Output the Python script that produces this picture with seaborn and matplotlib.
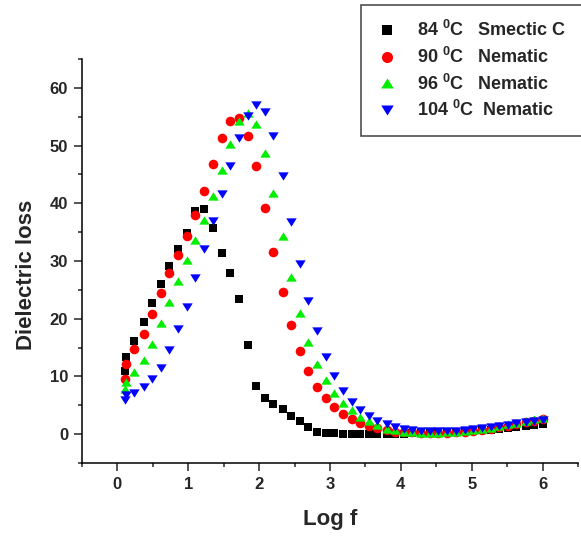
import numpy as np
import pandas as pd
import matplotlib
matplotlib.use("Agg")
import matplotlib.pyplot as plt
import seaborn as sns
from matplotlib.lines import Line2D
from matplotlib.ticker import MultipleLocator

# ---- data ----
logf = [0.10, 0.12, 0.24, 0.37, 0.49, 0.61, 0.73, 0.86, 0.98, 1.10,
        1.22, 1.35, 1.47, 1.59, 1.71, 1.84, 1.96, 2.08, 2.20, 2.33,
        2.45, 2.57, 2.69, 2.82, 2.94, 3.06, 3.18, 3.31, 3.43, 3.55,
        3.67, 3.80, 3.92, 4.04, 4.16, 4.29, 4.41, 4.53, 4.65, 4.78,
        4.90, 5.02, 5.14, 5.27, 5.39, 5.51, 5.63, 5.76, 5.88, 6.00]

loss_84 = [11.0, 13.3, 16.2, 19.4, 22.8, 26.0, 29.2, 32.0, 34.9, 38.6,
           39.0, 35.7, 31.4, 28.0, 23.5, 15.4, 8.4, 6.3, 5.3, 4.3,
           3.2, 2.2, 1.3, 0.3, 0.2, 0.15, 0.1, 0.1, 0.1, 0.1,
           0.1, 0.1, 0.1, 0.1, 0.15, 0.2, 0.25, 0.3, 0.35, 0.4,
           0.5, 0.6, 0.7, 0.8, 0.9, 1.05, 1.2, 1.35, 1.55, 1.8]

loss_90 = [9.5, 12.2, 14.7, 17.4, 20.8, 24.4, 28.0, 31.1, 34.4, 38.0,
           42.1, 46.8, 51.3, 54.2, 54.8, 51.7, 46.4, 39.2, 31.6, 24.7,
           18.9, 14.4, 11.0, 8.2, 6.2, 4.7, 3.5, 2.65, 2.0, 1.45,
           1.0, 0.65, 0.45, 0.35, 0.3, 0.25, 0.2, 0.2, 0.25, 0.3,
           0.4, 0.55, 0.75, 0.95, 1.2, 1.45, 1.75, 2.05, 2.35, 2.55]

loss_96 = [7.8, 9.1, 10.8, 12.9, 15.7, 19.2, 22.9, 26.5, 30.2, 33.6,
           37.1, 41.2, 45.7, 50.3, 54.3, 55.7, 53.8, 48.7, 41.7, 34.4,
           27.3, 21.0, 16.0, 12.1, 9.4, 7.1, 5.4, 4.1, 3.05, 2.2,
           1.5, 0.95, 0.67, 0.45, 0.35, 0.25, 0.25, 0.25, 0.3, 0.35,
           0.5, 0.7, 0.9, 1.1, 1.4, 1.7, 2.0, 2.3, 2.55, 2.75]

loss_104 = [6.0, 6.7, 7.1, 8.1, 9.5, 11.5, 14.5, 18.2, 22.1, 27.0,
            32.1, 36.9, 41.6, 46.4, 51.3, 55.2, 57.1, 55.9, 51.6, 44.7,
            36.8, 29.5, 23.0, 17.8, 13.4, 10.0, 7.4, 5.6, 4.2, 3.2,
            2.35, 1.8, 1.3, 0.97, 0.74, 0.57, 0.5, 0.5, 0.5, 0.6,
            0.7, 0.85, 1.0, 1.2, 1.4, 1.6, 1.85, 2.1, 2.3, 2.45]

series_names = ["84", "90", "96", "104"]
series_labels = ["84 $^0$C   Smectic C", "90 $^0$C   Nematic",
                 "96 $^0$C   Nematic", "104 $^0$C  Nematic"]
series_colors = ["#000000", "#ff0000", "#00ee00", "#0000ff"]

tri_up = [(0, 0.8), (-1, -0.8), (1, -0.8)]
tri_down = [(0, -0.8), (-1, 0.8), (1, 0.8)]
series_markers = ["s", "o", tri_up, tri_down]
series_sizes = [30, 48, 56, 56]

df = pd.DataFrame({
    "logf": logf * 4,
    "loss": loss_84 + loss_90 + loss_96 + loss_104,
    "series": sum([[n] * len(logf) for n in series_names], []),
})

sns.set_style("ticks")
plt.rcParams["font.family"] = ["Liberation Sans", "DejaVu Sans"]
plt.rcParams["font.weight"] = "bold"
plt.rcParams["mathtext.fontset"] = "custom"
plt.rcParams["mathtext.rm"] = "Liberation Sans:bold"
plt.rcParams["mathtext.it"] = "Liberation Sans:bold"
plt.rcParams["mathtext.bf"] = "Liberation Sans:bold"
plt.rcParams["mathtext.default"] = "rm"

fig = plt.figure(figsize=(5.81, 5.36), dpi=100)
ax = fig.add_axes([82 / 581, 1 - 463 / 536, (578 - 82) / 581, (463 - 59) / 536])

for name, col, mk, sz in zip(series_names, series_colors, series_markers, series_sizes):
    sns.scatterplot(data=df[df["series"] == name], x="logf", y="loss",
                    color=col, marker=mk, s=sz, linewidth=0, ax=ax,
                    legend=False, zorder=3)

ax.set_xlim(-0.5, 6.5)
ax.set_ylim(-5, 65)
ax.xaxis.set_major_locator(MultipleLocator(1))
ax.xaxis.set_minor_locator(MultipleLocator(0.5))
ax.yaxis.set_major_locator(MultipleLocator(10))
ax.yaxis.set_minor_locator(MultipleLocator(5))
ax.tick_params(which="major", direction="out", length=6, width=1.1,
               labelsize=12, pad=4)
ax.tick_params(which="minor", direction="out", length=3, width=1.1)
for lab in ax.get_xticklabels() + ax.get_yticklabels():
    lab.set_fontweight("bold")
for side in ["top", "right"]:
    ax.spines[side].set_visible(False)
for side in ["left", "bottom"]:
    ax.spines[side].set_linewidth(1.1)
    ax.spines[side].set_color("black")

ax.set_xlabel("Log f", fontsize=16, fontweight="bold")
ax.set_ylabel("Dielectric loss", fontsize=16, fontweight="bold")
ax.xaxis.set_label_coords(0.5, -0.113)
ax.yaxis.set_label_coords(-0.091, 0.465)

handles = [Line2D([], [], linestyle="none", marker=mk, color=col,
                  markersize=ms, markeredgewidth=0)
           for col, mk, ms in zip(series_colors, series_markers, [6.5, 8, 9, 9])]
leg = fig.legend(handles, series_labels, loc="upper left",
                 bbox_to_anchor=(361 / 581, 1 - 5 / 536), borderaxespad=0,
                 frameon=True, fancybox=False, edgecolor="#222222",
                 prop={"size": 13, "weight": "bold"}, handlelength=1.2,
                 handletextpad=1.05, labelspacing=0.36, borderpad=0.85)
leg.get_frame().set_linewidth(1.2)

fig.savefig("out.png", dpi=100)
